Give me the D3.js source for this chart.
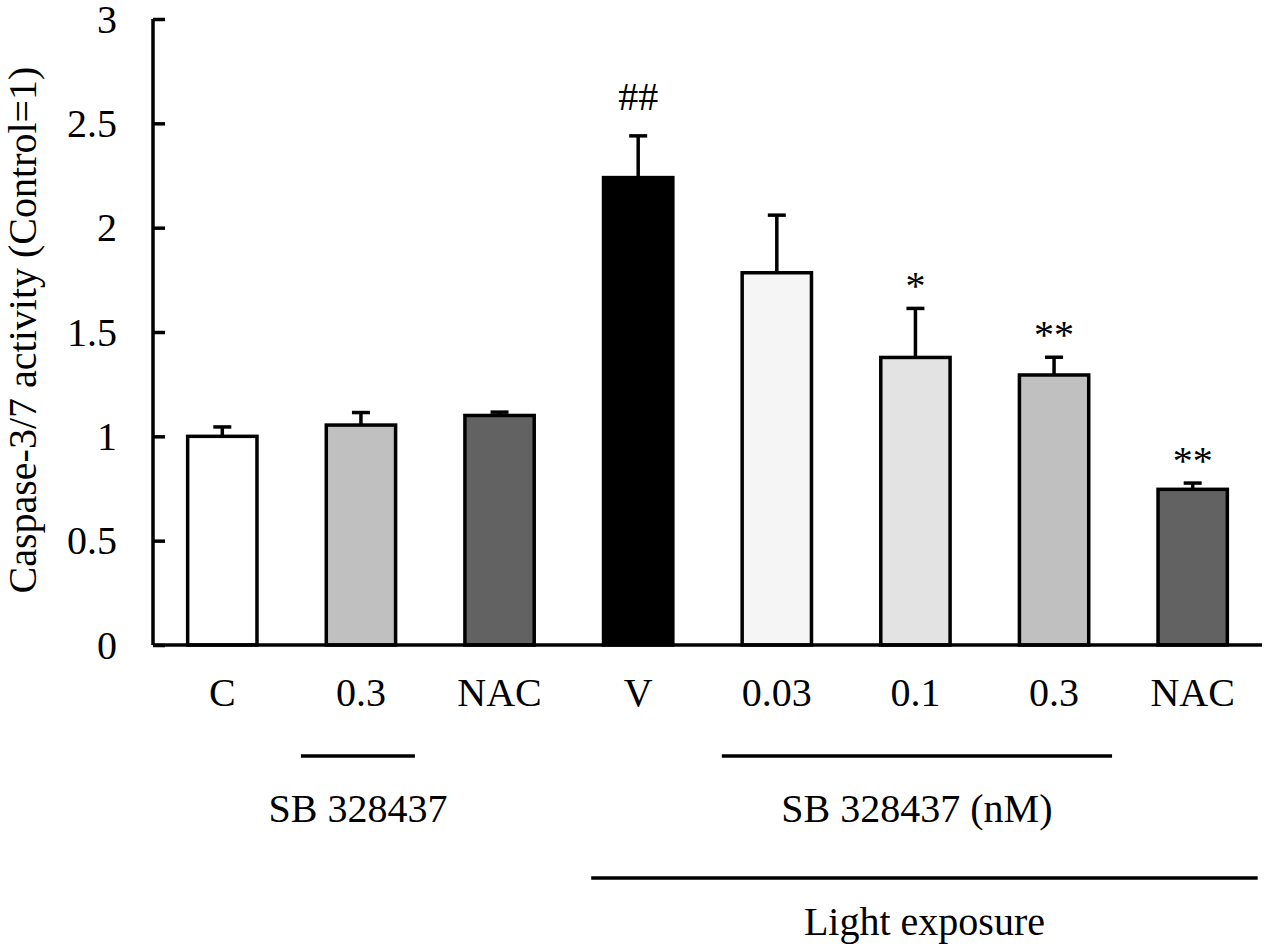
<!DOCTYPE html>
<html>
<head>
<meta charset="utf-8">
<script src="https://cdn.jsdelivr.net/npm/d3@7"></script>
<style>
  body { margin: 0; background: #fff; }
  text { font-family: "Liberation Serif", "Times New Roman", serif; fill: #000; }
</style>
</head>
<body>
<svg id="chart" width="1267" height="951"></svg>
<script>
// data
const categories = ["C", "0.3", "NAC", "V", "0.03", "0.1", "0.3", "NAC"];
const values     = [1.00, 1.054, 1.10, 2.24, 1.784, 1.378, 1.294, 0.746];
const errors     = [0.045, 0.06, 0.016, 0.20, 0.276, 0.235, 0.085, 0.03];
const fills      = ["#ffffff", "#c0c0c0", "#626262", "#000000", "#f5f5f5", "#e3e3e3", "#c0c0c0", "#626262"];
const marks      = ["", "", "", "##", "", "*", "**", "**"];
const yticks     = [0, 0.5, 1, 1.5, 2, 2.5, 3];

let plot_left = 153, plot_right = 1262, plot_top = 19, plot_bottom = 645;

const svg = d3.select("#chart");

const x_scale = d3.scaleBand()
      .range([plot_left, plot_right])
      .domain(d3.range(categories.length))
      .paddingInner(0.5)
      .paddingOuter(0.25);

const y_scale = d3.scaleLinear()
      .range([plot_bottom, plot_top])
      .domain([0, 3]);

const cx = (i) => x_scale(i) + x_scale.bandwidth() / 2;

// y axis, ticks pointing inwards
const yAxis = svg.append("g")
  .attr("transform", `translate(${plot_left},0)`)
  .call(d3.axisRight(y_scale)
        .tickValues(yticks)
        .tickSize(12)
        .tickFormat(""));
yAxis.select(".domain").attr("stroke-width", 3.5).attr("d", `M0,${plot_top}V${plot_bottom}`);
yAxis.selectAll(".tick line").attr("stroke-width", 3.5);

svg.append("g")
  .selectAll("text")
  .data(yticks)
  .enter()
  .append("text")
  .attr("x", plot_left - 36)
  .attr("y", (d) => y_scale(d))
  .attr("dy", "0.34em")
  .attr("text-anchor", "end")
  .style("font-size", "40px")
  .text((d) => d);

// bars
svg.selectAll("rect.bar")
  .data(values)
  .enter()
  .append("rect")
  .attr("class", "bar")
  .attr("x", (d, i) => x_scale(i))
  .attr("y", (d) => y_scale(d))
  .attr("width", x_scale.bandwidth())
  .attr("height", (d) => y_scale(0) - y_scale(d))
  .attr("fill", (d, i) => fills[i])
  .attr("stroke", "#000")
  .attr("stroke-width", 3.5);

// error bars (upper only)
const err = svg.append("g").attr("stroke", "#000").attr("stroke-width", 3.5);
values.forEach((v, i) => {
  err.append("line")
    .attr("x1", cx(i)).attr("x2", cx(i))
    .attr("y1", y_scale(v)).attr("y2", y_scale(v + errors[i]));
  err.append("line")
    .attr("x1", cx(i) - 9).attr("x2", cx(i) + 9)
    .attr("y1", y_scale(v + errors[i])).attr("y2", y_scale(v + errors[i]));
});

// x axis line
svg.append("line")
  .attr("x1", plot_left).attr("x2", plot_right)
  .attr("y1", plot_bottom).attr("y2", plot_bottom)
  .attr("stroke", "#000")
  .attr("stroke-width", 3.5);

// category labels
svg.selectAll("text.cat")
  .data(categories)
  .enter()
  .append("text")
  .attr("class", "cat")
  .attr("x", (d, i) => cx(i))
  .attr("y", 706)
  .attr("text-anchor", "middle")
  .style("font-size", "40px")
  .text((d) => d);

// significance marks
svg.selectAll("text.mark")
  .data(marks)
  .enter()
  .append("text")
  .attr("class", "mark")
  .attr("x", (d, i) => cx(i))
  .attr("y", (d, i) => y_scale(values[i] + errors[i]) - (d == "##" ? 26 : 9))
  .attr("text-anchor", "middle")
  .style("font-size", "40px")
  .text((d) => d);

// group brackets
const groups = [
  { from: 1, to: 1, dl: 60, dr: 54, ly: 756, label: "SB 328437", ty: 822 },
  { from: 4, to: 6, dl: 55, dr: 58, ly: 756, label: "SB 328437 (nM)", ty: 822 },
  { from: 3, to: 7, dl: 47, dr: 65, ly: 878, label: "Light exposure", ty: 935 }
];
groups.forEach((g) => {
  let x1 = cx(g.from) - g.dl, x2 = cx(g.to) + g.dr;
  svg.append("line")
    .attr("x1", x1).attr("x2", x2)
    .attr("y1", g.ly).attr("y2", g.ly)
    .attr("stroke", "#000")
    .attr("stroke-width", 3.5);
  svg.append("text")
    .attr("x", (x1 + x2) / 2)
    .attr("y", g.ty)
    .attr("text-anchor", "middle")
    .style("font-size", "40px")
    .text(g.label);
});

// y axis title
svg.append("text")
  .attr("transform", "translate(36,330) rotate(-90)")
  .attr("text-anchor", "middle")
  .style("font-size", "40px")
  .text("Caspase-3/7 activity (Control=1)");
</script>
</body>
</html>
